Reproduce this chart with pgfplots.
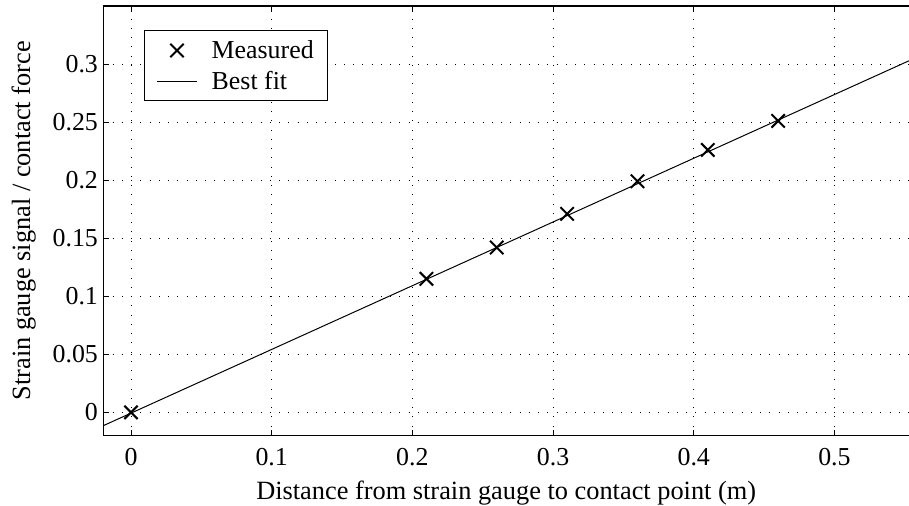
\documentclass[border=0pt]{standalone}
\usepackage{fontspec}
\setmainfont{Liberation Serif}
\usepackage{pgfplots}
\pgfplotsset{compat=1.18}
\pgfplotsset{
  mymarkleg/.style={legend image code/.code={\draw[##1] plot coordinates {(20pt,0pt)};\path (0pt,0pt) (52pt,0pt);}},
  mylineleg/.style={legend image code/.code={\draw[##1] (0pt,0pt) -- (40pt,0pt);\path (52pt,0pt);}},
}
\begin{document}
\newcommand{\fs}{\fontsize{26}{30}\selectfont}
\newcommand{\fl}{\fontsize{26.5}{30}\selectfont}
\begin{tikzpicture}
\begin{axis}[
  name=ax,
  scale only axis,
  width=810pt, height=432pt,
  xmin=-0.0196, xmax=0.553,
  ymin=-0.02, ymax=0.35,
  axis x line=box, axis y line=left,
  axis line style={line width=1.2pt,-},
  xtick={0,0.1,0.2,0.3,0.4,0.5},
  ytick={0,0.05,0.1,0.15,0.2,0.25,0.3},
  xticklabels={0,0.1,0.2,0.3,0.4,0.5},
  yticklabels={0,0.05,0.1,0.15,0.2,0.25,0.3},
  tick align=inside,
  major tick length=6pt,
  tick style={line width=0.8pt,black},
  grid=major,
  grid style={black, line width=0.8pt, dash pattern=on 0.8pt off 8.5pt},
  tick label style={font=\fs},
  label style={font=\fl},
  xticklabel style={yshift=-9pt},
  yticklabel style={xshift=-2pt},
  /pgf/number format/assume math mode=true,
  xlabel={Distance from strain gauge to contact point (m)},
  ylabel={Strain gauge signal / contact force},
  xlabel style={yshift=-9pt},
  ylabel style={yshift=10pt},
  legend style={at={(rel axis cs:0.05,0.943)}, anchor=north west, font=\fs, draw=black, line width=0.8pt, inner xsep=12pt, inner ysep=8pt, row sep=7pt},
  legend cell align=left,
  clip=true,
]
\addplot[only marks, mark=x, mark size=9.5pt, line width=2pt, black, mymarkleg] coordinates {
(0,0) (0.21,0.115) (0.26,0.142) (0.31,0.171) (0.36,0.199) (0.41,0.226) (0.46,0.251)
};
\addlegendentry{Measured}
\addplot[black, line width=1pt, mylineleg] coordinates {(-0.0196,-0.0114) (0.553,0.3028)};
\addlegendentry{Best fit}
\end{axis}
\pgfresetboundingbox
\path ([xshift=-99pt,yshift=-70pt]ax.south west) rectangle ([yshift=6pt]ax.north east);
\end{tikzpicture}
\end{document}
